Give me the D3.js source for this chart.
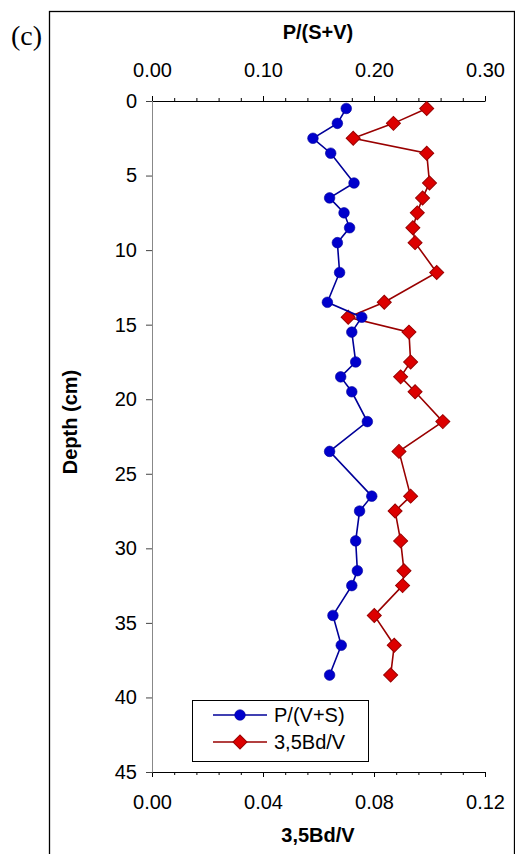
<!DOCTYPE html>
<html>
<head>
<meta charset="utf-8">
<script src="https://cdn.jsdelivr.net/npm/d3@7"></script>
<style>
  html, body { margin: 0; padding: 0; background: #fff; }
  svg { display: block; font-family: "Liberation Sans", Arial, sans-serif; }
</style>
</head>
<body>
<svg id="chart" width="515" height="854"></svg>
<script>
// Sampling depths (cm)
const depths = [0.5, 1.5, 2.5, 3.5, 5.5, 6.5, 7.5, 8.5, 9.5, 11.5, 13.5, 14.5, 15.5,
                17.5, 18.5, 19.5, 21.5, 23.5, 26.5, 27.5, 29.5, 31.5, 32.5, 34.5, 36.5, 38.5];
// P/(V+S) ratio, read on the top axis
const pvs = [0.175, 0.167, 0.145, 0.161, 0.182, 0.160, 0.173, 0.178, 0.167, 0.169, 0.158, 0.189, 0.180,
             0.1835, 0.170, 0.180, 0.194, 0.160, 0.198, 0.187, 0.1835, 0.185, 0.180, 0.163, 0.1705, 0.160];
// 3,5Bd/V ratio, read on the bottom axis
const bdv = [0.099, 0.087, 0.0725, 0.099, 0.100, 0.0975, 0.0956, 0.094, 0.0948, 0.1026, 0.0837, 0.0707, 0.0926,
             0.0932, 0.0896, 0.0948, 0.1048, 0.089, 0.0932, 0.0876, 0.0896, 0.0908, 0.0903, 0.0801, 0.0873, 0.086];

const topTicks = [0, 0.10, 0.20, 0.30];
const bottomTicks = [0, 0.04, 0.08, 0.12];
const depthTicks = [0, 5, 10, 15, 20, 25, 30, 35, 40, 45];
const seriesNames = ["P/(V+S)", "3,5Bd/V"];

const svg = d3.select("#chart");

const xTop = d3.scaleLinear().domain([0, 0.30]).range([152, 485]);
const xBot = d3.scaleLinear().domain([0, 0.12]).range([152, 485]);
const y = d3.scaleLinear().domain([0, 45]).range([101, 772]);

const blue = "#0000cc", blueLine = "#000099";
const red = "#dd0000", redLine = "#990000";

// frame around the panel
svg.append("rect").attr("x", 49.5).attr("y", 11.5).attr("width", 465).attr("height", 900)
  .attr("fill", "none").attr("stroke", "#000").attr("stroke-width", 1.3);

svg.append("text").attr("x", 11).attr("y", 45)
  .attr("font-family", "'Liberation Serif', 'Times New Roman', serif")
  .attr("font-size", 28).text("(c)");

// minor ticks
const minorTop = d3.range(0, 0.3001, 0.02);
const minorBot = d3.range(0, 0.1201, 0.008);

svg.append("g").attr("transform", "translate(0,101)")
  .call(d3.axisTop(xTop).tickValues(minorTop).tickSize(3).tickSizeOuter(0).tickFormat(""))
  .call(g => g.select(".domain").remove());
svg.append("g").attr("transform", "translate(0,772)")
  .call(d3.axisBottom(xBot).tickValues(minorBot).tickSize(3).tickSizeOuter(0).tickFormat(""))
  .call(g => g.select(".domain").remove());

// top axis
const gTop = svg.append("g").attr("transform", "translate(0,101)")
  .call(d3.axisTop(xTop).tickValues(topTicks).tickSize(5).tickSizeOuter(0)
        .tickPadding(19).tickFormat(d3.format(".2f")));
gTop.selectAll("text").attr("font-size", 20).attr("fill", "#000");

// bottom axis
const gBot = svg.append("g").attr("transform", "translate(0,772)")
  .call(d3.axisBottom(xBot).tickValues(bottomTicks).tickSize(5).tickSizeOuter(0)
        .tickPadding(18).tickFormat(d3.format(".2f")));
gBot.selectAll("text").attr("font-size", 20).attr("fill", "#000");

// depth axis
const gLeft = svg.append("g").attr("transform", "translate(152,0)")
  .call(d3.axisLeft(y).tickValues(depthTicks).tickSize(6).tickSizeOuter(0)
        .tickPadding(9).tickFormat(d3.format("d")));
gLeft.selectAll("text").attr("font-size", 20).attr("fill", "#000");
gLeft.select(".domain").attr("stroke", "#888");
gLeft.selectAll(".tick line").attr("stroke", "#444");

// axis titles
svg.append("text").attr("x", 318).attr("y", 39).attr("text-anchor", "middle")
  .attr("font-weight", "bold").attr("font-size", 20).text("P/(S+V)");
svg.append("text").attr("x", 318).attr("y", 842).attr("text-anchor", "middle")
  .attr("font-weight", "bold").attr("font-size", 20).text("3,5Bd/V");
svg.append("text").attr("transform", "translate(77,422) rotate(-90)").attr("text-anchor", "middle")
  .attr("font-weight", "bold").attr("font-size", 20).text("Depth (cm)");

// series
const dataP = depths.map((d, i) => ({ d, v: pvs[i] }));
const dataB = depths.map((d, i) => ({ d, v: bdv[i] }));

function drawDiamond(sel) {
  sel.attr("d", d3.symbol().type(d3.symbolSquare).size(98)())
     .attr("fill", red).attr("stroke", redLine).attr("stroke-width", 1);
}

svg.append("path").datum(dataB)
  .attr("d", d3.line().x(p => xBot(p.v)).y(p => y(p.d)))
  .attr("fill", "none").attr("stroke", redLine).attr("stroke-width", 1.6);
svg.append("g").selectAll("path").data(dataB).join("path")
  .attr("transform", p => `translate(${xBot(p.v)},${y(p.d)}) rotate(45)`)
  .call(drawDiamond);

svg.append("path").datum(dataP)
  .attr("d", d3.line().x(p => xTop(p.v)).y(p => y(p.d)))
  .attr("fill", "none").attr("stroke", blueLine).attr("stroke-width", 1.6);
svg.append("g").selectAll("circle").data(dataP).join("circle")
  .attr("cx", p => xTop(p.v)).attr("cy", p => y(p.d)).attr("r", 5.3)
  .attr("fill", blue).attr("stroke", blueLine).attr("stroke-width", 0.6);

// legend
const lg = svg.append("g");
lg.append("rect").attr("x", 192.5).attr("y", 700.5).attr("width", 176).attr("height", 61)
  .attr("fill", "#fff").attr("stroke", "#000").attr("stroke-width", 1);
const ly = [715, 742];
seriesNames.forEach((name, i) => {
  const c = i === 0 ? blueLine : redLine;
  lg.append("line").attr("x1", 213).attr("x2", 267).attr("y1", ly[i]).attr("y2", ly[i])
    .attr("stroke", c).attr("stroke-width", 1.6);
  if (i === 0) {
    lg.append("circle").attr("cx", 240).attr("cy", ly[i]).attr("r", 5.3)
      .attr("fill", blue).attr("stroke", blueLine).attr("stroke-width", 0.6);
  } else {
    lg.append("path").attr("transform", `translate(240,${ly[i]}) rotate(45)`).call(drawDiamond);
  }
  lg.append("text").attr("x", 274).attr("y", ly[i] + 7).attr("font-size", 20).text(name);
});
</script>
</body>
</html>
